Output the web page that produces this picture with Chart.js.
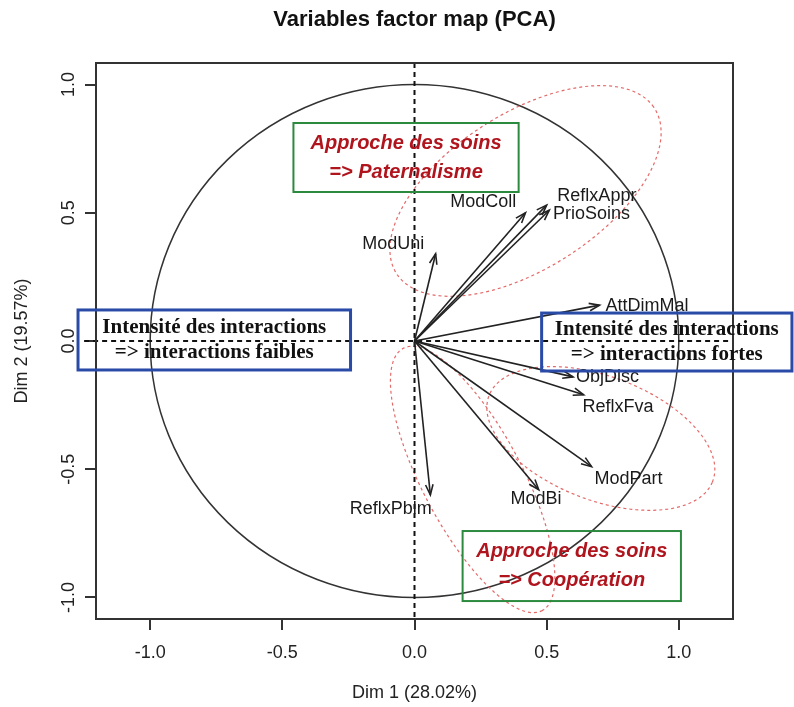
<!DOCTYPE html>
<html>
<head>
<meta charset="utf-8">
<script src="https://cdn.jsdelivr.net/npm/chart.js@4.4.1/dist/chart.umd.min.js"></script>
<style>
  html, body { margin: 0; padding: 0; background: #fff; }
  #wrap { width: 794px; height: 707px; }
</style>
</head>
<body>
<div id="wrap"><canvas id="pca" width="794" height="707"></canvas></div>
<script>
// variables and their coordinates on the first two dimensions
const varNames = ['ModUni', 'ModColl', 'ReflxAppr', 'PrioSoins', 'AttDimMal', 'ObjDisc', 'ReflxFva', 'ModPart', 'ModBi', 'ReflxPblm'];
const dim1 = [0.08, 0.42, 0.50, 0.51, 0.70, 0.60, 0.64, 0.67, 0.47, 0.06];
const dim2 = [0.34, 0.50, 0.53, 0.51, 0.14, -0.14, -0.21, -0.49, -0.58, -0.60];

// label anchors (after the label repel), in axis units
const labelX = [-0.08, 0.26, 0.69, 0.67, 0.88, 0.73, 0.77, 0.81, 0.46, -0.09];
const labelY = [0.38, 0.54, 0.565, 0.495, 0.136, -0.14, -0.257, -0.54, -0.616, -0.655];

const tickValues = [-1, -0.5, 0, 0.5, 1];
const chartTitle = 'Variables factor map (PCA)';
const xTitle = 'Dim 1 (28.02%)';
const yTitle = 'Dim 2 (19.57%)';

// red dotted ellipses: centre, semi axes, angle in degrees
const ellCx = [0.42, 0.705, 0.22];
const ellCy = [0.585, -0.38, -0.54];
const ellA = [0.585, 0.455, 0.575];
const ellB = [0.30, 0.24, 0.19];
const ellAngle = [34, -22, -63];

// annotation boxes
const boxText = [
  ['Approche des soins', '=> Paternalisme'],
  ['Approche des soins', '=> Coopération'],
  ['Intensité des interactions', '=> interactions faibles'],
  ['Intensité des interactions', '=> interactions fortes'],
];
const boxX1 = [-0.458, 0.182, -1.273, 0.481];
const boxX2 = [0.394, 1.008, -0.242, 1.428];
const boxY1 = [0.85, -0.741, 0.121, 0.109];
const boxY2 = [0.581, -1.014, -0.113, -0.117];
const boxKind = ['care', 'care', 'inter', 'inter'];

const SANS = '"Liberation Sans", Arial, Helvetica, sans-serif';
const SERIF = '"Liberation Serif", "Times New Roman", serif';

const decor = {
  id: 'decor',
  beforeDatasetsDraw(chart) {
    const { ctx, chartArea: a, scales: { x, y } } = chart;
    const x0 = x.getPixelForValue(0), y0 = y.getPixelForValue(0);
    ctx.save();
    // correlation circle
    ctx.beginPath();
    ctx.ellipse(x0, y0, x.getPixelForValue(1) - x0, y0 - y.getPixelForValue(1), 0, 0, 2 * Math.PI);
    ctx.strokeStyle = '#333';
    ctx.lineWidth = 1.5;
    ctx.stroke();

    // ellipses
    ctx.setLineDash([3, 3]);
    ctx.strokeStyle = '#e46a6a';
    ctx.lineWidth = 1.2;
    ellCx.forEach((cx, i) => {
      const t = ellAngle[i] * Math.PI / 180;
      ctx.beginPath();
      for (let k = 0; k <= 120; k++) {
        const p = k / 120 * 2 * Math.PI;
        const u = ellA[i] * Math.cos(p), v = ellB[i] * Math.sin(p);
        const px = x.getPixelForValue(cx + u * Math.cos(t) - v * Math.sin(t));
        const py = y.getPixelForValue(ellCy[i] + u * Math.sin(t) + v * Math.cos(t));
        if (k) ctx.lineTo(px, py); else ctx.moveTo(px, py);
      }
      ctx.stroke();
    });

    // dashed axes through origin
    ctx.setLineDash([5, 4]);
    ctx.strokeStyle = '#111';
    ctx.lineWidth = 2;
    ctx.beginPath();
    ctx.moveTo(x.getPixelForValue(-1.25), y0);
    ctx.lineTo(a.right, y0);
    ctx.moveTo(x0, a.top);
    ctx.lineTo(x0, a.bottom);
    ctx.stroke();
    ctx.restore();
  },
  afterDatasetsDraw(chart) {
    const { ctx, chartArea: a, scales: { x, y } } = chart;
    const x0 = x.getPixelForValue(0), y0 = y.getPixelForValue(0);
    ctx.save();

    // arrow heads
    ctx.strokeStyle = '#222';
    ctx.lineWidth = 1.6;
    dim1.forEach((d, i) => {
      const px = x.getPixelForValue(d), py = y.getPixelForValue(dim2[i]);
      const ang = Math.atan2(py - y0, px - x0);
      const L = 11, w = Math.PI / 9;
      ctx.beginPath();
      ctx.moveTo(px - L * Math.cos(ang - w), py - L * Math.sin(ang - w));
      ctx.lineTo(px, py);
      ctx.lineTo(px - L * Math.cos(ang + w), py - L * Math.sin(ang + w));
      ctx.stroke();
    });

    // variable labels
    ctx.fillStyle = '#1a1a1a';
    ctx.font = '18px ' + SANS;
    ctx.textAlign = 'center';
    ctx.textBaseline = 'middle';
    varNames.forEach((n, i) => {
      ctx.fillText(n, x.getPixelForValue(labelX[i]), y.getPixelForValue(labelY[i]));
    });

    // plot frame
    ctx.strokeStyle = '#333';
    ctx.lineWidth = 2;
    ctx.strokeRect(a.left, a.top, a.width, a.height);

    // annotation boxes
    boxText.forEach((lines, i) => {
      const l = x.getPixelForValue(boxX1[i]), r = x.getPixelForValue(boxX2[i]);
      const t = y.getPixelForValue(boxY1[i]), b = y.getPixelForValue(boxY2[i]);
      const care = boxKind[i] === 'care';
      ctx.strokeStyle = care ? '#2b8a3e' : '#2a4aa8';
      ctx.lineWidth = care ? 2 : 3;
      ctx.strokeRect(l, t, r - l, b - t);
      ctx.fillStyle = care ? '#b0151e' : '#111';
      ctx.font = care ? 'italic bold 20px ' + SANS : 'bold 21px ' + SERIF;
      const gap = care ? 29 : 24.5;
      const cx = (l + r) / 2, cy = (t + b) / 2;
      ctx.fillText(lines[0], cx, cy - gap / 2);
      ctx.fillText(lines[1], cx, cy + gap / 2);
    });

    // y tick labels (rotated, as in R)
    ctx.fillStyle = '#222';
    ctx.font = '18px ' + SANS;
    tickValues.forEach(v => {
      ctx.save();
      ctx.translate(69, y.getPixelForValue(v));
      ctx.rotate(-Math.PI / 2);
      ctx.fillText(v.toFixed(1), 0, 0);
      ctx.restore();
    });

    // axis titles and main title
    ctx.fillText(xTitle, (a.left + a.right) / 2, 693);
    ctx.save();
    ctx.translate(22, (a.top + a.bottom) / 2);
    ctx.rotate(-Math.PI / 2);
    ctx.fillText(yTitle, 0, 0);
    ctx.restore();
    ctx.fillStyle = '#111';
    ctx.font = 'bold 22px ' + SANS;
    ctx.fillText(chartTitle, (a.left + a.right) / 2, 20);
    ctx.restore();
  }
};

const datasets = varNames.map((n, i) => ({
  label: n,
  data: [{ x: 0, y: 0 }, { x: dim1[i], y: dim2[i] }],
  showLine: true,
  borderColor: '#222',
  borderWidth: 1.6,
  pointRadius: 0,
  fill: false,
}));

const axisGrid = { drawOnChartArea: false, drawTicks: true, tickLength: 11, color: '#333', lineWidth: 2 };

new Chart(document.getElementById('pca'), {
  type: 'scatter',
  data: { datasets },
  options: {
    responsive: false,
    animation: false,
    events: [],
    layout: { padding: { top: 63, right: 61, bottom: 0, left: 0 } },
    plugins: {
      legend: { display: false },
      tooltip: { enabled: false },
      title: { display: false },
    },
    scales: {
      x: {
        type: 'linear',
        min: -1.205,
        max: 1.205,
        afterBuildTicks: s => { s.ticks = tickValues.map(v => ({ value: v })); },
        afterFit: s => { s.height = 88; },
        grid: axisGrid,
        border: { display: false },
        ticks: {
          color: '#222',
          font: { family: SANS, size: 18 },
          padding: 12,
          maxRotation: 0,
          autoSkip: false,
          callback: v => Number(v).toFixed(1),
        },
      },
      y: {
        type: 'linear',
        min: -1.084,
        max: 1.084,
        afterBuildTicks: s => { s.ticks = tickValues.map(v => ({ value: v })); },
        afterFit: s => { s.width = 96; },
        grid: axisGrid,
        border: { display: false },
        ticks: { display: false },
      },
    },
  },
  plugins: [decor],
});
</script>
</body>
</html>
